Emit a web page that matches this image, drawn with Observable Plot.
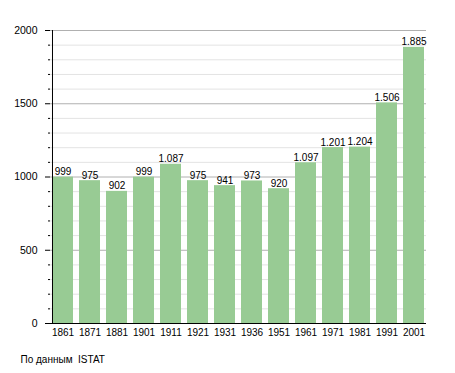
<!DOCTYPE html>
<html>
<head>
<meta charset="utf-8">
<script src="https://cdn.jsdelivr.net/npm/d3@7"></script>
<script src="https://cdn.jsdelivr.net/npm/@observablehq/plot@0.6"></script>
<style>
  html, body { margin: 0; padding: 0; background: #fff; }
  svg { display: block; }
</style>
</head>
<body>
<div id="chart"></div>
<script>
const years = ["1861","1871","1881","1901","1911","1921","1931","1936","1951","1961","1971","1981","1991","2001"];
const population = [999, 975, 902, 999, 1087, 975, 941, 973, 920, 1097, 1201, 1204, 1506, 1885];
const majorTicks = [0, 500, 1000, 1500, 2000];
const minorTicks = [100,200,300,400,600,700,800,900,1100,1200,1300,1400,1600,1700,1800,1900];
const caption = "По данным  ISTAT";

const data = years.map((y, i) => ({year: y, value: population[i]}));
const fmt = d3.formatLocale({decimal: ",", thousands: ".", grouping: [3], currency: ["", ""]}).format(",d");

const W = 455, H = 373;
const mL = 50, mR = 29, mT = 30, mB = 50;
const padInner = 0.23;
const step = (W - mL - mR) / (years.length - padInner);
const bw = step * (1 - padInner);

const chart = Plot.plot({
  width: W,
  height: H,
  marginLeft: mL,
  marginRight: mR,
  marginTop: mT,
  marginBottom: mB,
  style: {fontFamily: "'Liberation Sans', Arial, sans-serif", fontSize: "10px", color: "#000", background: "#fff"},
  x: {domain: years, type: "band", paddingInner: padInner, paddingOuter: 0, axis: null},
  y: {domain: [0, 2000], axis: null},
  marks: [
    Plot.ruleY(minorTicks, {stroke: "#e3e3e3", strokeWidth: 1}),
    Plot.ruleY(majorTicks.filter(d => d > 0), {stroke: "#b0b0b0", strokeWidth: 1}),
    Plot.barY(data, {x: "year", y: "value", fill: "#98cb94"}),
    Plot.text(data, {x: "year", y: "value", text: d => fmt(d.value), lineAnchor: "bottom", dy: -2, fontSize: 10, fill: "#000"}),
    Plot.axisY(majorTicks, {tickSize: 5, tickPadding: 8, stroke: "#000", fontSize: 10.5, fill: "#000", label: null, tickFormat: d => String(d)}),
    Plot.axisY(minorTicks, {tickSize: 2, stroke: "#000", fill: "none", label: null}),
    Plot.axisX(years, {tickSize: 0, tickPadding: 5, fontSize: 10, fill: "#000", label: null}),
    Plot.ruleY([0], {stroke: "#000", strokeWidth: 1}),
    Plot.ruleX([years[0]], {y1: 0, y2: 2000, dx: -bw / 2, stroke: "#000", strokeWidth: 1}),
    Plot.text([caption], {frameAnchor: "bottom-left", textAnchor: "start", dx: -30, dy: 39, fontSize: 10, fill: "#000"})
  ]
});
document.getElementById("chart").appendChild(chart);
</script>
</body>
</html>
